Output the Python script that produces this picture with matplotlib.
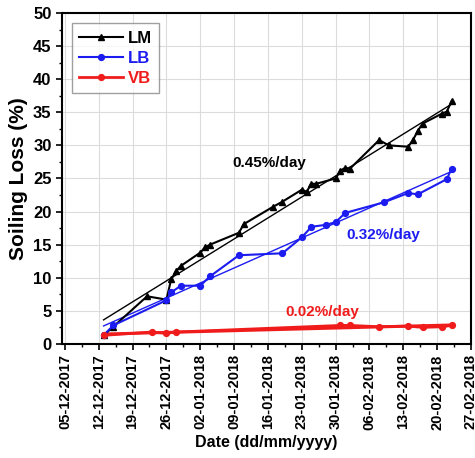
import numpy as np
import pandas as pd
import matplotlib
matplotlib.use("Agg")
import matplotlib.pyplot as plt
import matplotlib.dates as mdates

# soiling loss values
lm_dates = ["2017-12-13", "2017-12-15", "2017-12-22", "2017-12-26", "2017-12-27",
            "2017-12-28", "2017-12-29", "2018-01-02", "2018-01-03", "2018-01-04",
            "2018-01-10", "2018-01-11", "2018-01-17", "2018-01-19", "2018-01-23",
            "2018-01-24", "2018-01-25", "2018-01-26", "2018-01-30", "2018-01-31",
            "2018-02-01", "2018-02-02", "2018-02-08", "2018-02-10", "2018-02-14",
            "2018-02-15", "2018-02-16", "2018-02-17", "2018-02-21", "2018-02-22",
            "2018-02-23"]
lm_vals = [1.3, 2.6, 7.2, 6.7, 9.8, 11.0, 11.8, 13.8, 14.6, 15.0,
           16.8, 18.1, 20.7, 21.5, 23.3, 23.0, 24.2, 24.2, 25.0, 26.2,
           26.6, 26.5, 30.8, 30.0, 29.8, 30.8, 32.2, 33.3, 34.8, 35.1,
           36.7]

lb_dates = ["2017-12-13", "2017-12-15", "2017-12-26", "2017-12-27", "2017-12-29",
            "2018-01-02", "2018-01-04", "2018-01-10", "2018-01-19", "2018-01-23",
            "2018-01-25", "2018-01-28", "2018-01-30", "2018-02-01", "2018-02-09",
            "2018-02-14", "2018-02-16", "2018-02-22", "2018-02-23"]
lb_vals = [1.3, 2.8, 6.6, 7.8, 8.8, 8.8, 10.2, 13.4, 13.7, 16.1,
           17.7, 18.0, 18.4, 19.8, 21.4, 22.8, 22.6, 24.9, 26.5]

vb_dates = ["2017-12-13", "2017-12-23", "2017-12-26", "2017-12-28", "2018-01-31",
            "2018-02-02", "2018-02-08", "2018-02-14", "2018-02-17", "2018-02-21",
            "2018-02-23"]
vb_vals = [1.3, 1.8, 1.6, 1.8, 2.8, 2.8, 2.6, 2.7, 2.5, 2.6, 2.8]

rates = ["0.45%/day", "0.32%/day", "0.02%/day"]

plt.rcParams['font.family'] = ['Liberation Sans', 'DejaVu Sans']
plt.rcParams['font.weight'] = 'bold'

fig = plt.figure(figsize=(4.75, 4.58), dpi=100)
ax = fig.add_axes([0.1305, 0.249, 0.861, 0.7226])

series = [
    (lm_dates, lm_vals, "LM", "black", "^", 1.0, 1.5),
    (lb_dates, lb_vals, "LB", "#1c1cf0", "o", 1.0, 1.5),
    (vb_dates, vb_vals, "VB", "#f01c1c", "o", 2.2, 2.0),
]

for dates, vals, name, col, mk, fitlw, lw in series:
    d = pd.to_datetime(dates)
    x = mdates.date2num(d)
    # linear fit drawn over the data range
    k, b = np.polyfit(x, vals, 1)
    xf = np.array([x[0], x[-1]])
    ax.plot(xf, k * xf + b, color=col, lw=fitlw, zorder=2)
    ax.plot(d, vals, color=col, marker=mk, ms=4.2, lw=lw, label=name, zorder=3)

base = mdates.date2num(pd.Timestamp("2017-12-05"))
ax.text(base + 42.2, 27.3, rates[0], color="black", fontsize=11, fontweight="bold",
        ha="center", va="center")
ax.text(base + 65.9, 16.5, rates[1], color="#1c1cf0", fontsize=11, fontweight="bold",
        ha="center", va="center")
ax.text(base + 53.3, 4.8, rates[2], color="#f01c1c", fontsize=11, fontweight="bold",
        ha="center", va="center")

ax.set_xlim(base - 0.6, base + 84)
ax.set_ylim(0, 50)

ticks = pd.date_range("2017-12-05", "2018-02-27", freq="7D")
ax.set_xticks(mdates.date2num(ticks))
ax.set_xticks(mdates.date2num(ticks[:-1]) + 3.5, minor=True)
ax.xaxis.set_major_formatter(mdates.DateFormatter("%d-%m-%Y"))
ax.set_yticks(np.arange(0, 51, 5))
ax.set_yticks(np.arange(2.5, 50, 5), minor=True)

for lab in ax.get_xticklabels():
    lab.set_rotation(90)
    lab.set_fontsize(10.5)
    lab.set_fontweight("bold")
for lab in ax.get_yticklabels():
    lab.set_fontsize(12)
    lab.set_fontweight("bold")

ax.tick_params(which="major", length=4, width=1.2)
ax.tick_params(which="minor", length=2.5, width=1)
ax.grid(True, which="major", color="#dcdcdc", lw=0.8)
ax.set_axisbelow(True)
for s in ax.spines.values():
    s.set_linewidth(1.5)

ax.set_ylabel("Soiling Loss (%)", fontsize=15, fontweight="bold", labelpad=4)
ax.set_xlabel("Date (dd/mm/yyyy)", fontsize=11.5, fontweight="bold", labelpad=4)

leg = ax.legend(loc="upper left", fontsize=12, frameon=True, fancybox=False,
                edgecolor="#888888", handlelength=2.6, borderpad=0.45,
                labelspacing=0.3, handletextpad=0.3, borderaxespad=0.6)
for txt, line in zip(leg.get_texts(), leg.get_lines()):
    txt.set_color(line.get_color())
    txt.set_fontweight("bold")

fig.savefig("out.png", dpi=100)
